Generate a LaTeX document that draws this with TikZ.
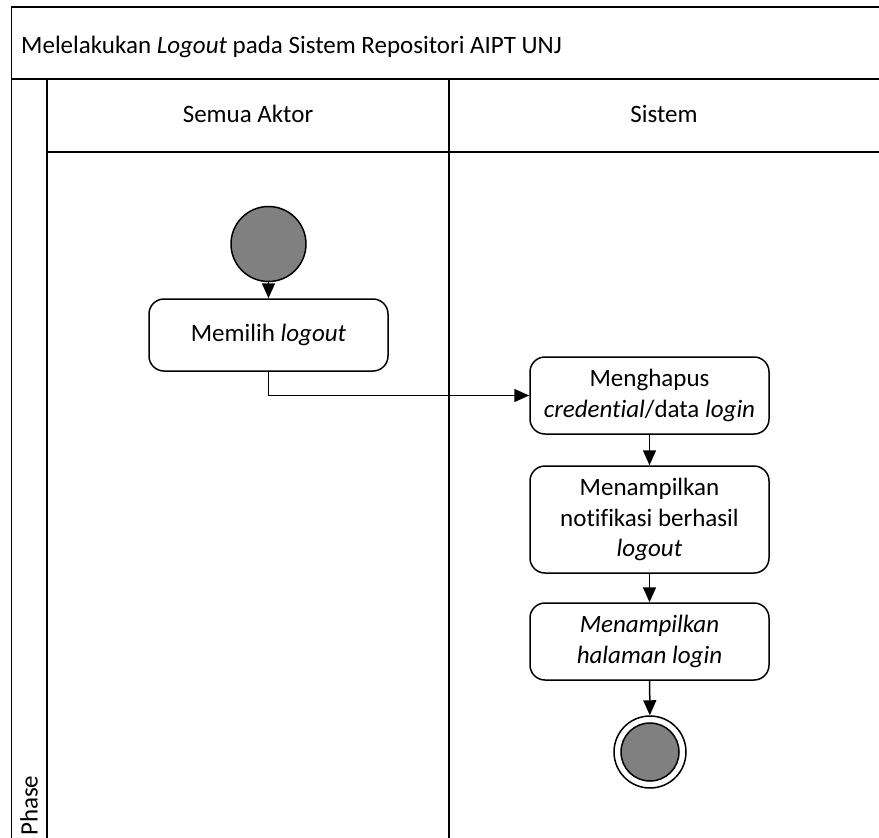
\documentclass[tikz,border=0pt]{standalone}
\usepackage{fontspec}
\setmainfont{Carlito}[RawFeature={-liga}]
\usetikzlibrary{arrows.meta}
\begin{document}
\begin{tikzpicture}[x=1pt,y=-1pt,
  frame/.style={line width=1.5pt},
  txt/.style={font=\fontsize{25}{30.5}\selectfont, inner sep=0pt},
  act/.style={txt,draw,line width=1.5pt,rounded corners=15pt,
    minimum width=239pt,align=center},
  startnode/.style={circle,draw,line width=1.5pt,fill=gray,minimum size=75pt,inner sep=0pt},
  flow/.style={line width=1.5pt,-{Triangle[width=13pt,length=15pt]}}]
\useasboundingbox (0,0) rectangle (879,838);

% swimlane frame
\draw[frame] (11.5,838) -- (11.5,7) -- (879,7);
\draw[frame] (11.5,79) -- (879,79);
\draw[frame] (47,79) -- (47,838);
\draw[frame] (449,79) -- (449,838);
\draw[frame] (47,152) -- (879,152);

% labels
\node[txt,anchor=west] (title) at (21,47) {Melelakukan \textit{Logout} pada Sistem Repositori AIPT UNJ};
\node[txt] (lane1) at (248,114) {Semua Aktor};
\node[txt] (lane2) at (664,114) {Sistem};
\node[txt,rotate=90,anchor=west] (phase) at (29,836) {Phase};

% activities
\node[startnode] (start) at (268.5,244) {};
\node[act,minimum height=72pt] (b1) at (268.5,335) {Memilih \textit{logout}};
\node[act,minimum height=77pt] (b2) at (649.5,395.5) {Menghapus\\\textit{credential}/data \textit{login}};
\node[act,minimum height=107pt] (b3) at (649.5,519.5) {Menampilkan\\notifikasi berhasil\\\textit{logout}};
\node[act,minimum height=77pt] (b4) at (649.5,641.5) {\textit{Menampilkan}\\\textit{halaman login}};
\node[circle,draw,line width=1.5pt,minimum size=72pt,inner sep=0pt] (end) at (650,752) {};
\node[circle,draw,line width=1.5pt,fill=gray,minimum size=58pt,inner sep=0pt] (endin) at (end) {};

% flows
\draw[flow] (start) -- (b1);
\draw[flow] (b1.south) |- (b2.west);
\draw[flow] (b2) -- (b3);
\draw[flow] (b3) -- (b4);
\draw[flow] (b4) -- (end);
\end{tikzpicture}
\end{document}
